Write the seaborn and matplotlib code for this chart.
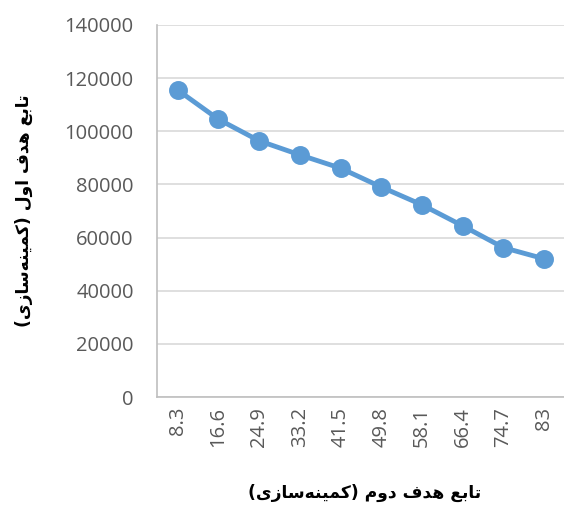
import matplotlib
matplotlib.use("Agg")
import matplotlib.pyplot as plt
import seaborn as sns
import pandas as pd

# second objective (x categories) and first objective (y)
x_labels = ["8.3", "16.6", "24.9", "33.2", "41.5", "49.8", "58.1", "66.4", "74.7", "83"]
y_values = [115500, 104500, 96400, 91100, 86100, 79000, 72300, 64400, 56200, 52000]
y_ticks = [0, 20000, 40000, 60000, 80000, 100000, 120000, 140000]

x_title = "تابع هدف دوم (کمینه\u200cسازی)"
y_title = "تابع هدف اول (کمینه\u200cسازی)"

# matplotlib has no arabic shaping, so pick presentation forms by hand
# letter: (isolated, final, initial, medial); None -> letter only joins to the right
FORMS = {
    "ا": (0xFE8D, 0xFE8E, None, None),
    "ب": (0xFE8F, 0xFE90, 0xFE91, 0xFE92),
    "ت": (0xFE95, 0xFE96, 0xFE97, 0xFE98),
    "ع": (0xFEC9, 0xFECA, 0xFECB, 0xFECC),
    "ه": (0xFEE9, 0xFEEA, 0xFEEB, 0xFEEC),
    "د": (0xFEA9, 0xFEAA, None, None),
    "ف": (0xFED1, 0xFED2, 0xFED3, 0xFED4),
    "و": (0xFEED, 0xFEEE, None, None),
    "ل": (0xFEDD, 0xFEDE, 0xFEDF, 0xFEE0),
    "ک": (0xFB8E, 0xFB8F, 0xFB90, 0xFB91),
    "م": (0xFEE1, 0xFEE2, 0xFEE3, 0xFEE4),
    "ی": (0xFBFC, 0xFBFD, 0xFBFE, 0xFBFF),
    "ن": (0xFEE5, 0xFEE6, 0xFEE7, 0xFEE8),
    "س": (0xFEB1, 0xFEB2, 0xFEB3, 0xFEB4),
    "ز": (0xFEAF, 0xFEB0, None, None),
}


def shape(text):
    out = []
    for i, ch in enumerate(text):
        if ch not in FORMS:
            if ch != "\u200c":
                out.append(ch)
            continue
        prev = text[i - 1] if i > 0 else ""
        nxt = text[i + 1] if i + 1 < len(text) else ""
        f = FORMS[ch]
        join_prev = prev in FORMS and FORMS[prev][2] is not None
        join_next = f[2] is not None and nxt in FORMS
        if join_prev and join_next:
            code = f[3]
        elif join_prev:
            code = f[1]
        elif join_next:
            code = f[2]
        else:
            code = f[0]
        out.append(chr(code))
    vis = "".join(reversed(out))
    return vis.translate(str.maketrans("()", ")("))


df = pd.DataFrame({"x": x_labels, "y": y_values})

sns.set_style("white")
plt.rcParams["font.family"] = ["Open Sans", "DejaVu Sans"]

fig = plt.figure(figsize=(5.64, 5.09), dpi=100)
ax = fig.add_axes([0.279, 0.22, 0.722, 0.731])

sns.pointplot(data=df, x="x", y="y", color="#5b9bd5", markers="o",
              markersize=11, linewidth=3.5, errorbar=None, ax=ax)

ax.set_ylim(0, 140000)
ax.set_yticks(y_ticks)
ax.set_yticklabels([str(v) for v in y_ticks])
ax.yaxis.grid(True, color="#d9d9d9", linewidth=1.2)
ax.set_axisbelow(True)

for s in ["top", "right"]:
    ax.spines[s].set_visible(False)
for s in ["left", "bottom"]:
    ax.spines[s].set_color("#bfbfbf")
    ax.spines[s].set_linewidth(1.2)

ax.tick_params(axis="y", length=0, pad=17, labelsize=14.5, labelcolor="#595959")
ax.tick_params(axis="x", length=0, pad=7, labelsize=14.5, labelcolor="#595959",
               labelrotation=90)

ax.set_xlabel(shape(x_title), fontsize=12.3, fontweight="bold",
              family=["DejaVu Sans"], color="black")
ax.set_ylabel(shape(y_title), fontsize=12.3, fontweight="bold",
              family=["DejaVu Sans"], color="black")
ax.xaxis.label.set_va("center")
ax.yaxis.label.set_va("center")
ax.xaxis.set_label_coords(0.51, -0.258)
ax.yaxis.set_label_coords(-0.328, 0.5)

fig.savefig("out.png", dpi=100)
